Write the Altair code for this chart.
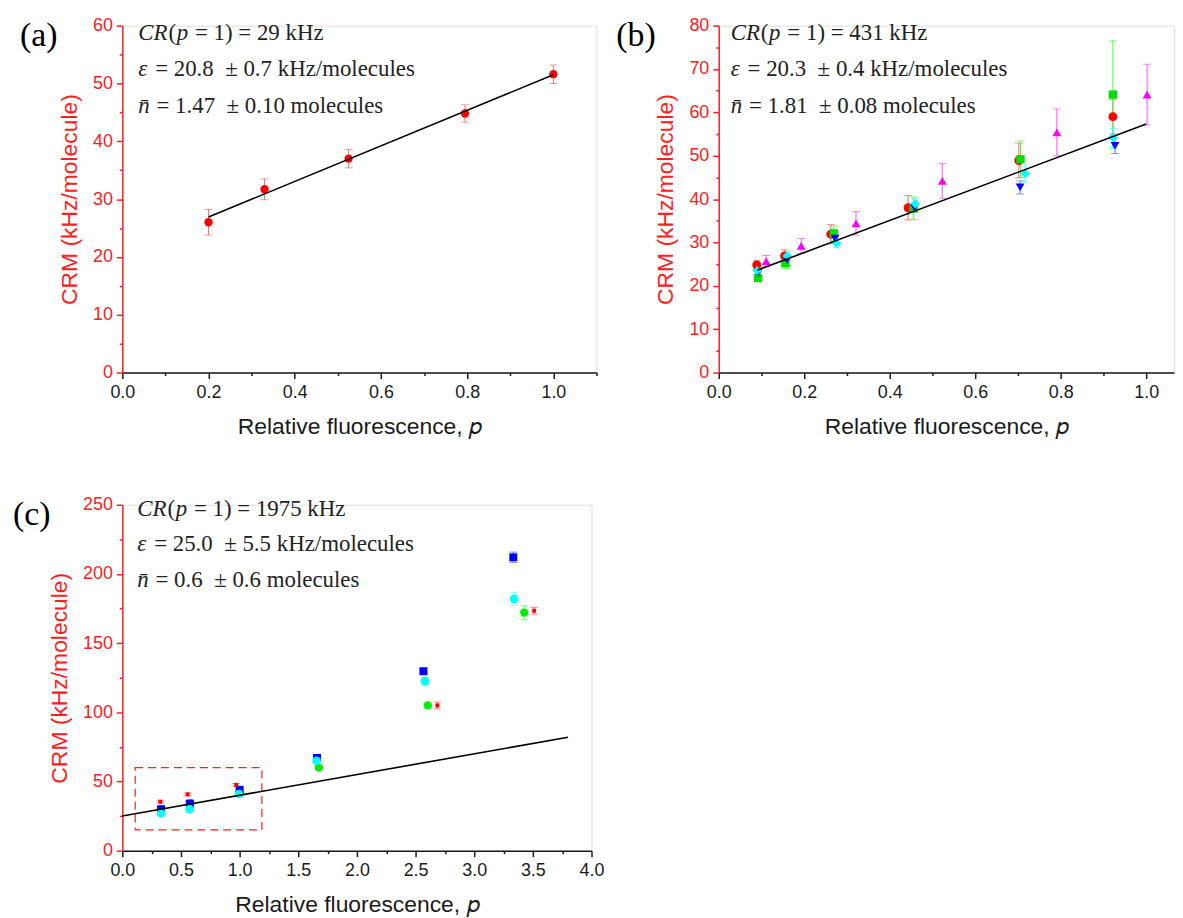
import altair as alt
import pandas as pd

# ---------------- data ----------------
# panel (a)
a_p = [0.20, 0.33, 0.525, 0.795, 1.00]
a_crm = [26.0, 31.7, 37.0, 44.8, 51.6]
a_err = [2.2, 1.8, 1.6, 1.5, 1.6]
a_fit_p = [0.20, 1.00]
a_fit_crm = [26.9, 51.5]
a_cr = "= 1) = 29 kHz"
a_eps = "= 20.8\u00a0 ± 0.7 kHz/molecules"
a_n = "= 1.47\u00a0 ± 0.10 molecules"

# panel (b)
b_red_p = [0.089, 0.154, 0.262, 0.443, 0.702, 0.922]
b_red_crm = [24.8, 26.9, 31.9, 38.0, 48.9, 59.0]
b_red_err = [1.0, 1.4, 2.2, 2.8, 4.0, 4.0]
b_green_p = [0.092, 0.156, 0.269, 0.456, 0.706, 0.922]
b_green_crm = [21.8, 25.2, 32.1, 37.9, 49.2, 64.1]
b_green_err = [0.8, 1.2, 1.7, 2.6, 4.2, 12.4]
b_blue_p = [0.092, 0.160, 0.272, 0.458, 0.705, 0.927]
b_blue_crm = [22.9, 25.9, 30.9, 38.0, 42.7, 52.3]
b_blue_err = [1.2, 1.2, 1.0, 1.0, 1.5, 1.8]
b_cyan_p = [0.090, 0.160, 0.276, 0.460, 0.717, 0.922]
b_cyan_crm = [23.5, 26.9, 29.8, 38.9, 45.9, 54.2]
b_cyan_err = [1.0, 1.0, 1.0, 1.2, 2.0, 2.1]
b_mag_p = [0.111, 0.193, 0.321, 0.523, 0.791, 1.002]
b_mag_crm = [25.7, 29.2, 34.4, 44.2, 55.4, 64.1]
b_mag_err = [1.3, 1.7, 2.7, 4.0, 5.4, 7.0]
b_fit_p = [0.09, 1.00]
b_fit_crm = [23.6, 57.3]
b_cr = "= 1) = 431 kHz"
b_eps = "= 20.3\u00a0 ± 0.4 kHz/molecules"
b_n = "= 1.81\u00a0 ± 0.08 molecules"

# panel (c)
c_green_p = [0.33, 0.58, 1.00, 1.676, 2.605, 3.427]
c_green_crm = [29.0, 34.5, 42.0, 60.0, 105.0, 172.0]
c_green_err = [1.0, 1.0, 1.0, 1.5, 2.0, 5.0]
c_blue_p = [0.33, 0.575, 1.00, 1.66, 2.567, 3.333]
c_blue_crm = [30.0, 34.0, 44.0, 67.0, 129.7, 212.0]
c_blue_err = [1.5, 1.5, 1.5, 1.5, 2.0, 3.8]
c_cyan_p = [0.33, 0.573, 0.995, 1.657, 2.58, 3.34]
c_cyan_crm = [27.0, 30.0, 41.0, 65.0, 122.5, 182.0]
c_cyan_err = [1.5, 1.5, 1.5, 1.5, 3.0, 4.7]
c_red_p = [0.324, 0.557, 0.971, 2.686, 3.511]
c_red_crm = [35.4, 40.7, 47.6, 105.0, 173.4]
c_red_err = [1.0, 1.0, 1.0, 2.5, 2.5]
c_fit_p = [0.0, 3.8]
c_fit_crm = [25.0, 82.0]
c_box_p = [0.11, 1.19]
c_box_crm = [15.0, 60.0]
c_cr = "= 1) = 1975 kHz"
c_eps = "= 25.0\u00a0 ± 5.5 kHz/molecules"
c_n = "= 0.6\u00a0 ± 0.6 molecules"

# axis ticks (major + minor positions)
a_xticks = [0.0, 0.1, 0.2, 0.3, 0.4, 0.5, 0.6, 0.7, 0.8, 0.9, 1.0, 1.1]
a_yticks = [0, 5, 10, 15, 20, 25, 30, 35, 40, 45, 50, 55, 60]
b_xticks = [0.0, 0.1, 0.2, 0.3, 0.4, 0.5, 0.6, 0.7, 0.8, 0.9, 1.0]
b_yticks = [0, 5, 10, 15, 20, 25, 30, 35, 40, 45, 50, 55, 60, 65, 70, 75, 80]
c_xticks = [0.0, 0.25, 0.5, 0.75, 1.0, 1.25, 1.5, 1.75, 2.0, 2.25, 2.5,
            2.75, 3.0, 3.25, 3.5, 3.75, 4.0]
c_yticks = [0, 25, 50, 75, 100, 125, 150, 175, 200, 225, 250]

X_TITLE = "Relative fluorescence, 𝑝"
Y_TITLE = "CRM (kHz/molecule)"

SANS = "Liberation Sans"
SERIF = "Liberation Serif"
RED = "#ff2020"
DARK = "#1a1a1a"
TXT = "#222222"
FS = 23  # annotation font size
# advance (em) after each leading italic piece: glyph width + slant room + space
EM = {"CR": 1.32, "(": 0.36, "p": 0.80, "ε": 0.74, "n̄": 0.80}


def major(step):
    return f"abs(datum.value/{step} - round(datum.value/{step})) < 0.001"


def x_enc(field, domain, vals, step, fmt):
    t = major(step)
    return alt.X(field, type="quantitative",
                 scale=alt.Scale(domain=domain, nice=False, zero=False),
                 axis=alt.Axis(values=vals, title=X_TITLE, grid=False,
                               labelOverlap=False, labelFlush=False,
                               labelExpr=f"{t} ? format(datum.value, '{fmt}') : ''",
                               tickSize={"condition": {"test": t, "value": 6}, "value": 3},
                               domainColor=DARK, tickColor=DARK, labelColor=DARK,
                               titleColor=DARK, labelFont=SANS, labelFontSize=18,
                               titleFont=SANS, titleFontSize=23, titleFontWeight="normal",
                               labelPadding=5, titlePadding=14, domainWidth=1.5,
                               tickWidth=1.5))


def y_enc(field, domain, vals, step):
    t = major(step)
    return alt.Y(field, type="quantitative",
                 scale=alt.Scale(domain=domain, nice=False, zero=False),
                 axis=alt.Axis(values=vals, title=Y_TITLE, grid=False,
                               labelOverlap=False, labelFlush=False,
                               labelExpr=f"{t} ? format(datum.value, 'd') : ''",
                               tickSize={"condition": {"test": t, "value": 6}, "value": 3},
                               domainColor=RED, tickColor=RED, labelColor=RED,
                               titleColor=RED, labelFont=SANS, labelFontSize=18,
                               titleFont=SANS, titleFontSize=23, titleFontWeight="normal",
                               labelPadding=4, titlePadding=11, domainWidth=1.5,
                               tickWidth=1.5))


def series_df(p, crm, err):
    return pd.DataFrame({"p": p, "crm": crm,
                         "lo": [v - e for v, e in zip(crm, err)],
                         "hi": [v + e for v, e in zip(crm, err)]})


def text_piece(t, x, y, italic, size=FS):
    return (alt.Chart(pd.DataFrame({"t": [t]}))
            .mark_text(font=SERIF, fontSize=size, align="left", baseline="middle",
                       color=TXT, fontStyle="italic" if italic else "normal")
            .encode(text="t:N", x=alt.value(x), y=alt.value(y)))


def annotation(tx, ty, cr_rest, eps_rest, n_rest):
    out = []
    pieces = [[("CR", True), ("(", False), ("p", True), (cr_rest, False)],
              [("ε", True), (eps_rest, False)],
              [("n̄", True), (n_rest, False)]]
    for line, y in zip(pieces, ty):
        x = tx
        for t, it in line:
            out.append(text_piece(t, x, y, it))
            x += EM.get(t, 0) * FS
    return out


def panel(series, fit_p, fit_crm, xd, xv, xs, xf, yd, yv, ys, ann, tx, ty,
          label, lx, width, height, box=None, extra_left=None):
    X = x_enc("p", xd, xv, xs, xf)
    Yp = y_enc("crm", yd, yv, ys)
    Ylo = y_enc("lo", yd, yv, ys)
    layers = []
    for (p, crm, err, color, ecolor, shape, size) in series:
        df = series_df(p, crm, err)
        layers.append(alt.Chart(df).mark_errorbar(ticks=True, size=8, thickness=1,
                                                  color=ecolor)
                      .encode(x=X, y=Ylo, y2="hi:Q"))
    for (p, crm, err, color, ecolor, shape, size) in series:
        df = series_df(p, crm, err)
        layers.append(alt.Chart(df).mark_point(filled=True, opacity=1, shape=shape,
                                               size=size, color=color)
                      .encode(x=X, y=Yp))
    if box is not None:
        bdf = pd.DataFrame({"p": [box[0][0]], "p2": [box[0][1]],
                            "crm": [box[1][0]], "crm2": [box[1][1]]})
        layers.append(alt.Chart(bdf).mark_rect(fill=None, fillOpacity=0, stroke=RED,
                                               strokeWidth=1.2, strokeDash=[8, 5])
                      .encode(x=X, x2="p2:Q", y=Yp, y2="crm2:Q"))
    fdf = pd.DataFrame({"p": fit_p, "crm": fit_crm})
    layers.append(alt.Chart(fdf).mark_line(color="black", strokeWidth=1.6)
                  .encode(x=X, y=Yp))
    layers += annotation(tx, ty, *ann)
    ldf = pd.DataFrame({"t": [label]})
    layers.append(alt.Chart(ldf).mark_text(font=SERIF, fontSize=34, align="left",
                                           baseline="middle", color="black")
                  .encode(text="t:N", x=alt.value(lx), y=alt.value(10)))
    if extra_left is not None:
        layers.append(alt.Chart(ldf).mark_rule(stroke="white", strokeOpacity=0)
                      .encode(x=alt.value(extra_left), x2=alt.value(extra_left + 1),
                              y=alt.value(100)))
    return alt.layer(*layers).properties(width=width, height=height)


ERR_RED = "#f47070"

pa = panel(
    [(a_p, a_crm, a_err, "#ff0000", ERR_RED, "circle", 70)],
    a_fit_p, a_fit_crm, [0, 1.1], a_xticks, 0.2, ".1f", [0, 60], a_yticks, 10,
    (a_cr, a_eps, a_n), 16, [7, 44, 81], "(a)", -103, 477, 349, extra_left=-107)

pb = panel(
    [(b_red_p, b_red_crm, b_red_err, "#ff0000", "#ff6060", "circle", 80),
     (b_green_p, b_green_crm, b_green_err, "#00e000", "#40ff40", "square", 70),
     (b_blue_p, b_blue_crm, b_blue_err, "#0000ff", "#6060ff", "triangle-down", 80),
     (b_cyan_p, b_cyan_crm, b_cyan_err, "#00ffff", "#50ffff", "diamond", 90),
     (b_mag_p, b_mag_crm, b_mag_err, "#ff00ff", "#ff50ff", "triangle-up", 80)],
    b_fit_p, b_fit_crm, [0, 1.065], b_xticks, 0.2, ".1f", [0, 80], b_yticks, 10,
    (b_cr, b_eps, b_n), 12, [7, 44, 81], "(b)", -103, 458, 349)

pc = panel(
    [(c_green_p, c_green_crm, c_green_err, "#00ee00", "#60ff60", "circle", 70),
     (c_blue_p, c_blue_crm, c_blue_err, "#0000ff", "#6060ff", "square", 64),
     (c_cyan_p, c_cyan_crm, c_cyan_err, "#00ffff", "#60ffff", "circle", 75),
     (c_red_p, c_red_crm, c_red_err, "#ff0000", "#ff6060", "square", 16)],
    c_fit_p, c_fit_crm, [0, 4.0], c_xticks, 0.5, ".1f", [0, 250], c_yticks, 50,
    (c_cr, c_eps, c_n), 15, [4, 40, 76], "(c)", -110, 472, 348,
    box=(c_box_p, c_box_crm))

chart = alt.vconcat(
    alt.hconcat(pa, pb, spacing=17),
    pc,
    spacing=56,
).properties(
    padding={"left": 4, "top": 5, "right": 0, "bottom": 0}
).configure_view(stroke=None).configure(background="white")

chart.save("out.html", embed_options={"renderer": "svg", "actions": False})
